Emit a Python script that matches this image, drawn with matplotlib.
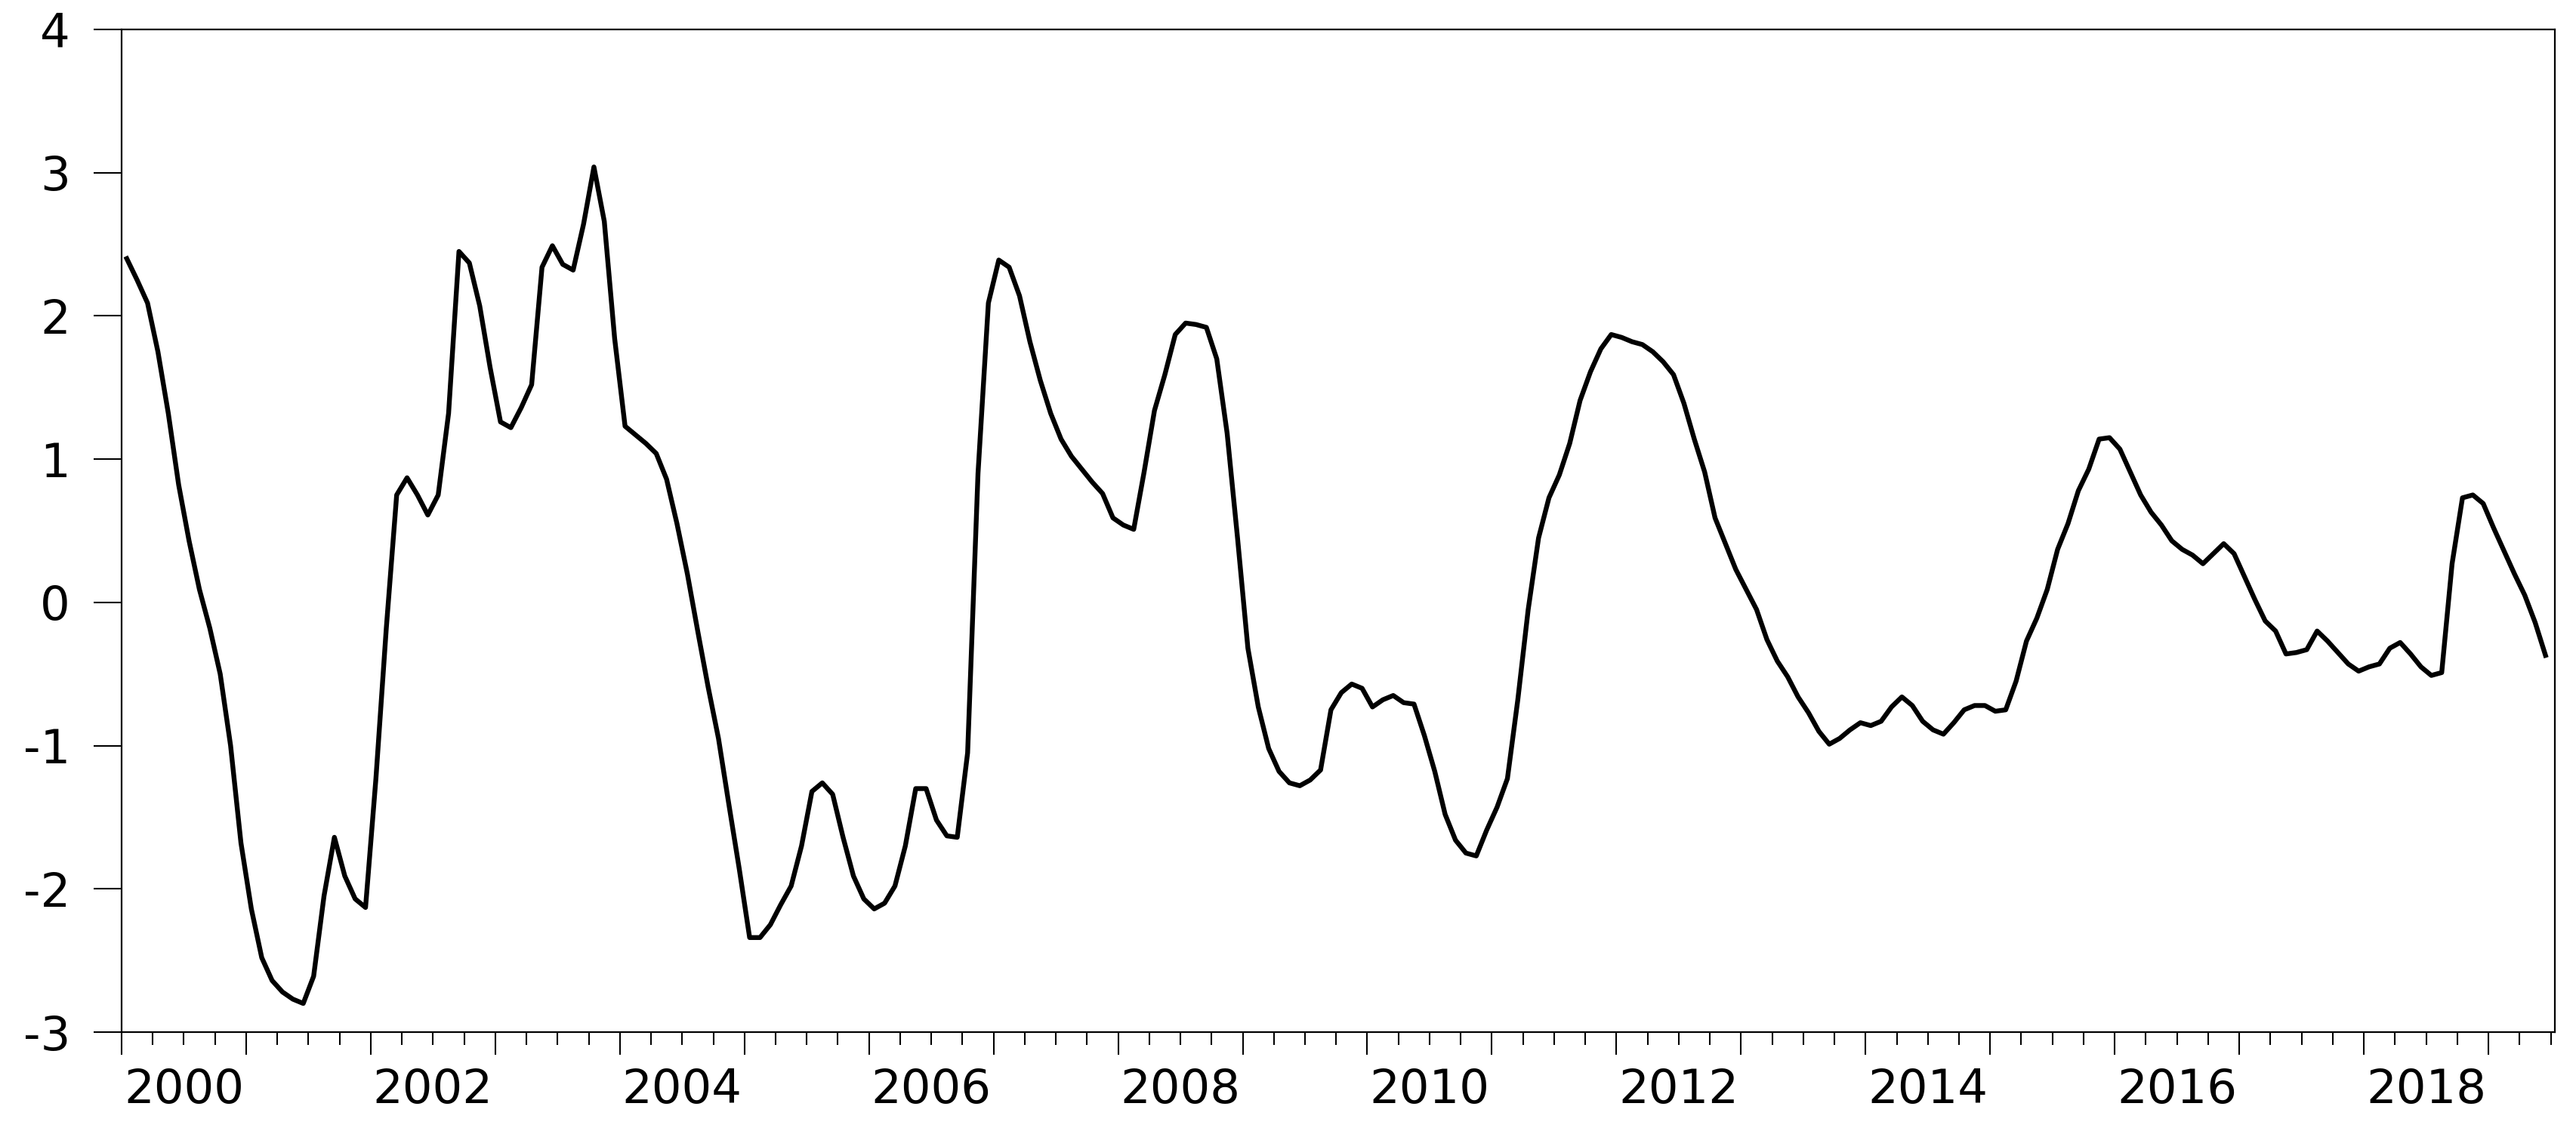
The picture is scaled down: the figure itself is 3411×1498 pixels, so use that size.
import matplotlib.pyplot as plt
import pandas as pd

# monthly series, Jan 2000 .. Jun 2019 (one row per year)
values = [
    2.40, 2.25, 2.09, 1.75, 1.32, 0.82, 0.43, 0.09, -0.18, -0.50, -1.00, -1.68,
    -2.14, -2.48, -2.64, -2.72, -2.77, -2.80, -2.61, -2.05, -1.64, -1.91, -2.07, -2.13,
    -1.23, -0.18, 0.75, 0.87, 0.75, 0.61, 0.75, 1.32, 2.45, 2.37, 2.07, 1.64,
    1.26, 1.22, 1.36, 1.52, 2.34, 2.49, 2.36, 2.32, 2.64, 3.04, 2.66, 1.84,
    1.23, 1.17, 1.11, 1.04, 0.86, 0.55, 0.20, -0.20, -0.59, -0.95, -1.41, -1.86,
    -2.34, -2.34, -2.25, -2.11, -1.98, -1.70, -1.32, -1.26, -1.34, -1.64, -1.91, -2.07,
    -2.14, -2.10, -1.98, -1.70, -1.30, -1.30, -1.52, -1.63, -1.64, -1.05, 0.90, 2.09,
    2.39, 2.34, 2.14, 1.82, 1.55, 1.32, 1.14, 1.02, 0.93, 0.84, 0.76, 0.59,
    0.54, 0.51, 0.91, 1.34, 1.59, 1.87, 1.95, 1.94, 1.92, 1.70, 1.18, 0.45,
    -0.32, -0.73, -1.02, -1.18, -1.26, -1.28, -1.24, -1.17, -0.75, -0.63, -0.57, -0.60,
    -0.73, -0.68, -0.65, -0.70, -0.71, -0.93, -1.18, -1.48, -1.66, -1.75, -1.77, -1.59,
    -1.43, -1.23, -0.68, -0.05, 0.45, 0.73, 0.89, 1.11, 1.41, 1.61, 1.77, 1.87,
    1.85, 1.82, 1.80, 1.75, 1.68, 1.59, 1.39, 1.14, 0.91, 0.59, 0.41, 0.23,
    0.09, -0.05, -0.26, -0.41, -0.52, -0.66, -0.77, -0.90, -0.99, -0.95, -0.89, -0.84,
    -0.86, -0.83, -0.73, -0.66, -0.72, -0.83, -0.89, -0.92, -0.84, -0.75, -0.72, -0.72,
    -0.76, -0.75, -0.55, -0.27, -0.11, 0.09, 0.37, 0.55, 0.78, 0.93, 1.14, 1.15,
    1.07, 0.91, 0.75, 0.63, 0.54, 0.43, 0.37, 0.33, 0.27, 0.34, 0.41, 0.34,
    0.18, 0.02, -0.13, -0.20, -0.36, -0.35, -0.33, -0.20, -0.27, -0.35, -0.43, -0.48,
    -0.45, -0.43, -0.32, -0.28, -0.36, -0.45, -0.51, -0.49, 0.27, 0.73, 0.75, 0.69,
    0.52, 0.36, 0.20, 0.05, -0.14, -0.37,
]
startMonth = "2000-01"
yTicks = [-3, -2, -1, 0, 1, 2, 3, 4]
tickYears = list(range(2000, 2020))
labelYears = list(range(2000, 2020, 2))

months = pd.period_range(startMonth, periods=len(values), freq="M")
x = months.year + (months.month - 0.5) / 12
xEnd = 2000 + (len(values) + 0.4) / 12

plt.rcParams['font.family'] = ['DejaVu Sans']

W, H = 3412, 1498
fig = plt.figure(figsize=(W / 100, H / 100), dpi=100)
ax = fig.add_axes([161 / W, (H - 1367) / H, (3383 - 161) / W, (1367 - 39) / H])

ax.plot(x, values, color='black', linewidth=4.6, solid_joinstyle='round')

ax.set_xlim(2000, xEnd)
ax.set_ylim(-3, 4)
ax.set_yticks(yTicks)
ax.set_yticklabels([str(v) for v in yTicks])

# yearly major ticks, quarterly minor ticks; labels sit mid-year on even years
ax.set_xticks(tickYears)
ax.set_xticklabels([])
quarters = [y + q for y in tickYears for q in (0.25, 0.5, 0.75) if y + q <= xEnd]
ax.set_xticks(quarters, minor=True)
ax.set_xticklabels([str(int(q)) if (q % 1 == 0.5 and int(q) in labelYears) else "" for q in quarters],
                   minor=True)

ax.tick_params(axis='y', direction='out', length=27, width=1.5, pad=22, labelsize=45)
ax.tick_params(axis='x', which='major', direction='out', length=21.5, width=1.5, labelbottom=False)
ax.tick_params(axis='x', which='minor', direction='out', length=12, width=1.5, pad=22, labelsize=45)

for s in ax.spines.values():
    s.set_linewidth(1.6)

fig.savefig("out.png", dpi=100)
